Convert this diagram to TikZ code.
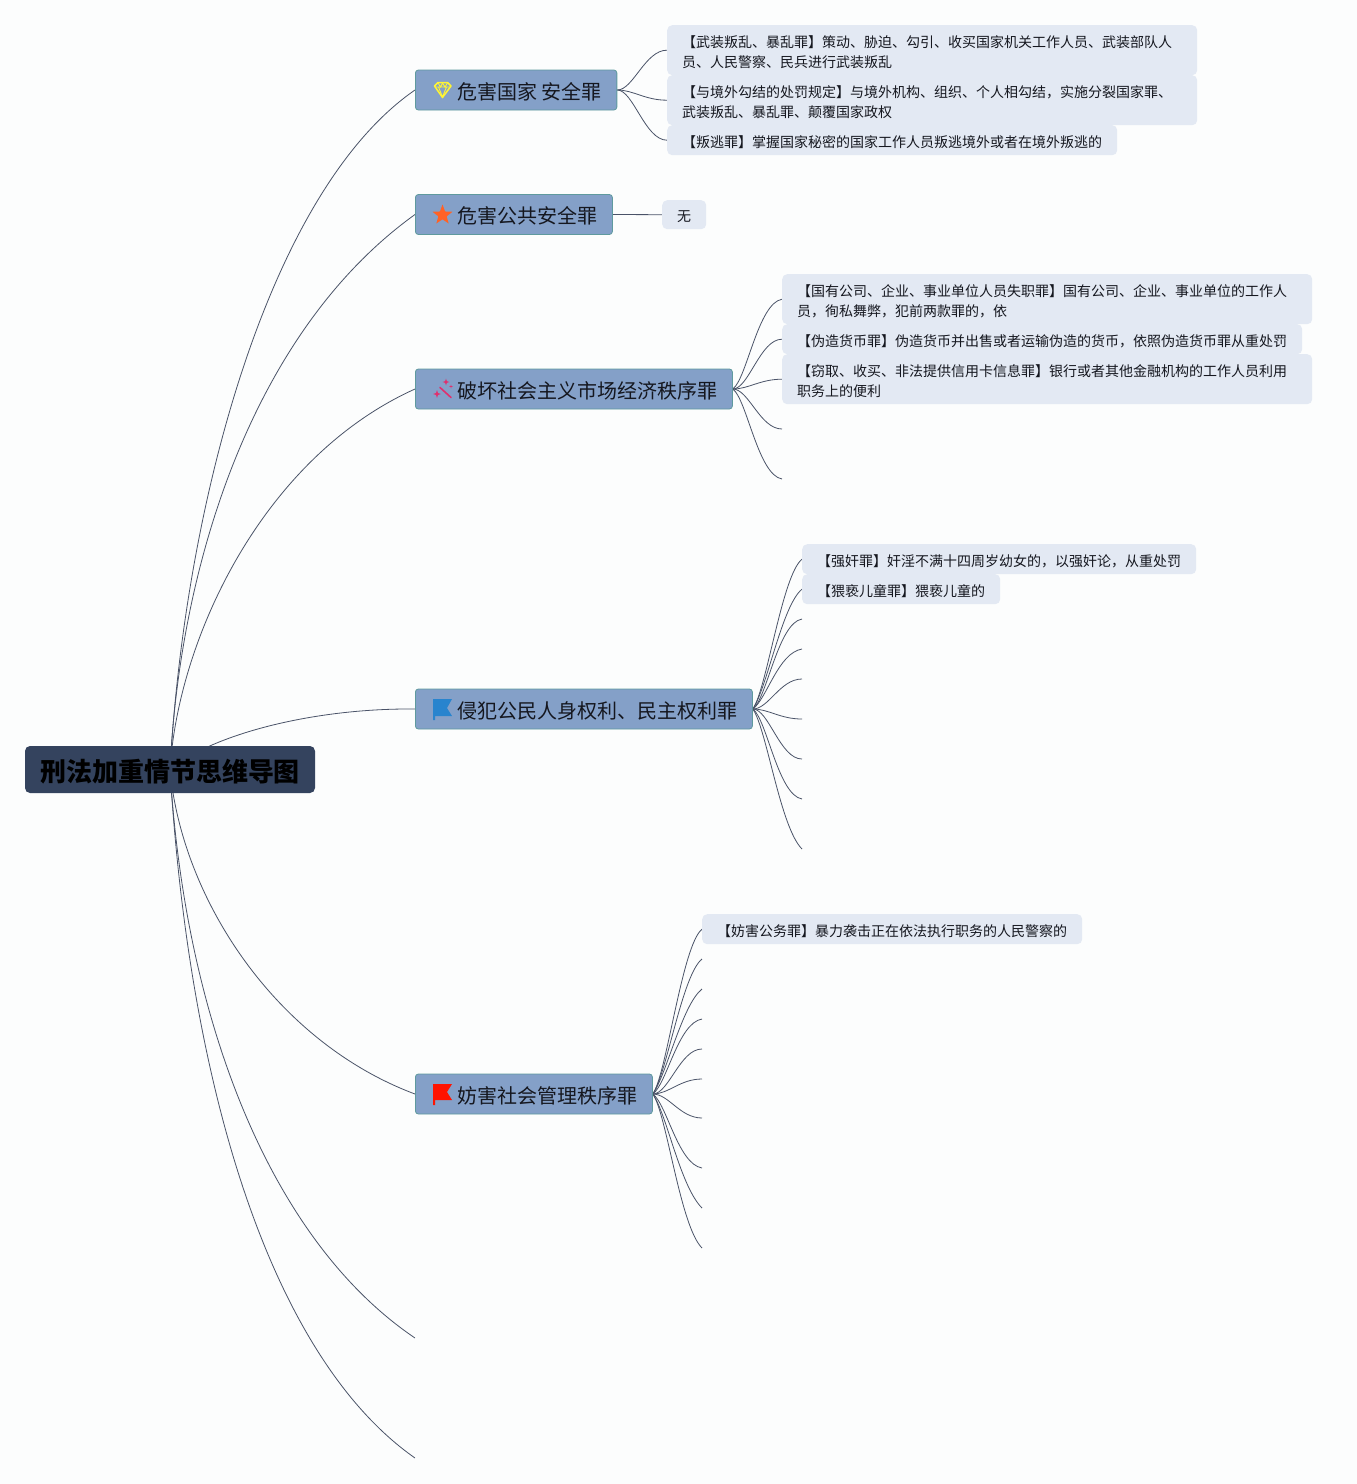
\documentclass[tikz,border=0pt]{standalone}
\usepackage{fontspec}
\setmainfont{Noto Sans CJK SC}
\usetikzlibrary{backgrounds, shapes.geometric}
\definecolor{pagebg}{HTML}{FCFDFD}
\definecolor{rootfill}{HTML}{34435E}
\definecolor{branchfill}{HTML}{84A0C8}
\definecolor{branchedge}{HTML}{5F9A9E}
\definecolor{leaffill}{HTML}{E3E9F3}
\definecolor{linkcol}{HTML}{4A5368}
\definecolor{inktext}{HTML}{15171F}
\definecolor{wandcol}{HTML}{E0306E}
\tikzset{
  root/.style = {fill = rootfill, rounded corners = 5, minimum width = 290, minimum height = 47, inner sep = 0, execute at begin node = {\rule{0pt}{25.9pt}}, font = \fontsize{26}{30}\selectfont\bfseries},
  branch/.style = {draw = branchedge, fill = branchfill, text = inktext, line width = 0.8, rounded corners = 3, minimum height = 40, inner xsep = 15, inner ysep = 0, anchor = west, execute at begin node = {\rule{0pt}{20.6pt}}, font = \fontsize{20}{24}\selectfont},
  leaf/.style = {fill = leaffill, text = inktext, rounded corners = 5, inner xsep = 15, inner ysep = 0, align = left, anchor = north west, execute at begin node = {\rule{0pt}{15.3pt}}, font = \fontsize{14}{20}\selectfont},
  spark/.style = {star, star points = 4, star point ratio = 3, fill = wandcol, inner sep = 0},
  link/.style = {draw = linkcol, line width = 0.8},
  fan/.style = {link, to path = {.. controls +(16,0) and +(-22,0) .. (\tikztotarget)}},
  risenear/.style = {link, to path = {.. controls +(14,-10) and +(-24,4) .. (\tikztotarget)}},
  risefar/.style = {link, to path = {.. controls +(14,-20) and +(-20,16) .. (\tikztotarget)}},
  dropnear/.style = {link, to path = {.. controls +(14,10) and +(-24,-4) .. (\tikztotarget)}},
  dropfar/.style = {link, to path = {.. controls +(14,20) and +(-22,-22) .. (\tikztotarget)}}
}
\begin{document}
\begin{tikzpicture}[x=1pt, y=-1pt]
\useasboundingbox (0, 0) rectangle (1357, 1484);
% centre node
\node[root] (root) at (170, 769.5) {刑法加重情节思维导图};
% first level
\node[branch] (guojia) at (415, 90) {\hspace*{27pt}危害国家 安全罪};
\node[branch] (gonggong) at (415, 214.5) {\hspace*{27pt}危害公共安全罪};
\node[branch] (jingji) at (415, 389) {\hspace*{27pt}破坏社会主义市场经济秩序罪};
\node[branch] (gongmin) at (415, 709) {\hspace*{27pt}侵犯公民人身权利、民主权利罪};
\node[branch] (guanli) at (415, 1094) {\hspace*{27pt}妨害社会管理秩序罪};
% icons
\draw[yellow!80!white, line width = 1.5, line join = round] (434.5, 86) -- (438, 82.5) -- (447.5, 82.5) -- (451, 86) -- (442.5, 97.5) -- cycle;
\draw[yellow!80!white, line width = 0.9] (434.5, 87) -- (451, 87) (438.5, 87) -- (442.5, 97) -- (446.5, 87) (438, 83) -- (440.5, 87) -- (442.5, 83) -- (445, 87) -- (447.5, 83);
\node[star, star points = 5, star point ratio = 2.4, fill = orange!55!red!85!white, minimum size = 21, inner sep = 0] (staricon) at (442.5, 215) {};
\draw[wandcol, line width = 1.6, line cap = round] (440, 387.5) -- (451, 397.5);
\node[spark, minimum size = 8] (sparka) at (437, 394) {};
\node[spark, minimum size = 7] (sparkb) at (446, 382) {};
\node[spark, minimum size = 4] (sparkc) at (451, 386.5) {};
\fill[cyan!60!blue!90!white] (433, 699) -- (452, 699) -- (447, 708) -- (452, 716) -- (435, 716) -- (435, 720) -- (433, 720) -- cycle;
\fill[red!85!orange] (433, 1084) -- (452, 1084) -- (447, 1092) -- (452, 1100) -- (435, 1100) -- (435, 1105) -- (433, 1105) -- cycle;
% leaves
\node[leaf, text width = 500, minimum height = 50] (wuzhuang) at (667, 25) {【武装叛乱、暴乱罪】策动、胁迫、勾引、收买国家机关工作人员、武装部队人\\员、人民警察、民兵进行武装叛乱};
\node[leaf, text width = 500, minimum height = 50] (goujie) at (667, 75) {【与境外勾结的处罚规定】与境外机构、组织、个人相勾结，实施分裂国家罪、\\武装叛乱、暴乱罪、颠覆国家政权};
\node[leaf, text width = 420, minimum height = 30] (pantao) at (667, 125) {【叛逃罪】掌握国家秘密的国家工作人员叛逃境外或者在境外叛逃的};
\node[leaf, text width = 14, minimum height = 29] (wu) at (662, 200) {无};
\node[leaf, text width = 500, minimum height = 50] (shizhi) at (782, 274) {【国有公司、企业、事业单位人员失职罪】国有公司、企业、事业单位的工作人\\员，徇私舞弊，犯前两款罪的，依};
\node[leaf, text width = 490, minimum height = 30] (weizao) at (782, 324) {【伪造货币罪】伪造货币并出售或者运输伪造的货币，依照伪造货币罪从重处罚};
\node[leaf, text width = 500, minimum height = 50] (qiequ) at (782, 354) {【窃取、收买、非法提供信用卡信息罪】银行或者其他金融机构的工作人员利用\\职务上的便利};
\node[leaf, text width = 364, minimum height = 30] (qiangjian) at (802, 544) {【强奸罪】奸淫不满十四周岁幼女的，以强奸论，从重处罚};
\node[leaf, text width = 168, minimum height = 30] (weixie) at (802, 574) {【猥亵儿童罪】猥亵儿童的};
\node[leaf, text width = 350, minimum height = 30] (fanghai) at (702, 914) {【妨害公务罪】暴力袭击正在依法执行职务的人民警察的};
% free ends
\coordinate (endf) at (415, 1338);
\coordinate (endg) at (415, 1458);
\coordinate (jingjid) at (782, 429);
\coordinate (jingjie) at (782, 479);
\coordinate (gongminc) at (802, 619);
\coordinate (gongmind) at (802, 649);
\coordinate (gongmine) at (802, 679);
\coordinate (gongminf) at (802, 719);
\coordinate (gongming) at (802, 759);
\coordinate (gongminh) at (802, 799);
\coordinate (gongmini) at (802, 849);
\coordinate (guanlib) at (702, 959);
\coordinate (guanlic) at (702, 989);
\coordinate (guanlid) at (702, 1019);
\coordinate (guanlie) at (702, 1049);
\coordinate (guanlif) at (702, 1079);
\coordinate (guanlig) at (702, 1118);
\coordinate (guanlih) at (702, 1168);
\coordinate (guanlii) at (702, 1208);
\coordinate (guanlij) at (702, 1248);
\begin{scope}[on background layer]
\fill[pagebg] (0, 0) rectangle (1357, 1484);
% root to first level
\draw[link] (root.center) .. controls +(15,-270) and +(-145,100) .. (guojia.west);
\draw[link] (root.center) .. controls +(10,-210) and +(-160,115) .. (gonggong.west);
\draw[link] (root.center) .. controls +(8,-130) and +(-153,69) .. (jingji.west);
\draw[link] (root.center) .. controls +(42,-35) and +(-102,-1) .. (gongmin.west);
\draw[link] (root.center) .. controls +(12,130) and +(-139,-52) .. (guanli.west);
\draw[link] (root.center) .. controls +(15,250) and +(-145,-98) .. (endf);
\draw[link] (root.center) .. controls +(20,330) and +(-140,-98) .. (endg);
% first level to leaves
\draw[fan] (guojia.east) to (wuzhuang.west);
\draw[fan] (guojia.east) to (goujie.west);
\draw[fan] (guojia.east) to (pantao.west);
\draw[link] (gonggong.east) -- (wu.west);
\draw[risenear] (jingji.east) to (shizhi.west);
\draw[fan] (jingji.east) to (weizao.west);
\draw[fan] (jingji.east) to (qiequ.west);
\draw[fan] (jingji.east) to (jingjid);
\draw[dropnear] (jingji.east) to (jingjie);
\draw[risefar] (gongmin.east) to (qiangjian.west);
\draw[risefar] (gongmin.east) to (weixie.west);
\draw[risenear] (gongmin.east) to (gongminc);
\draw[risenear] (gongmin.east) to (gongmind);
\draw[fan] (gongmin.east) to (gongmine);
\draw[fan] (gongmin.east) to (gongminf);
\draw[fan] (gongmin.east) to (gongming);
\draw[dropnear] (gongmin.east) to (gongminh);
\draw[dropfar] (gongmin.east) to (gongmini);
\draw[risefar] (guanli.east) to (fanghai.west);
\draw[risefar] (guanli.east) to (guanlib);
\draw[risefar] (guanli.east) to (guanlic);
\draw[risenear] (guanli.east) to (guanlid);
\draw[fan] (guanli.east) to (guanlie);
\draw[fan] (guanli.east) to (guanlif);
\draw[fan] (guanli.east) to (guanlig);
\draw[dropnear] (guanli.east) to (guanlih);
\draw[dropfar] (guanli.east) to (guanlii);
\draw[dropfar] (guanli.east) to (guanlij);
\end{scope}
\end{tikzpicture}
\end{document}
